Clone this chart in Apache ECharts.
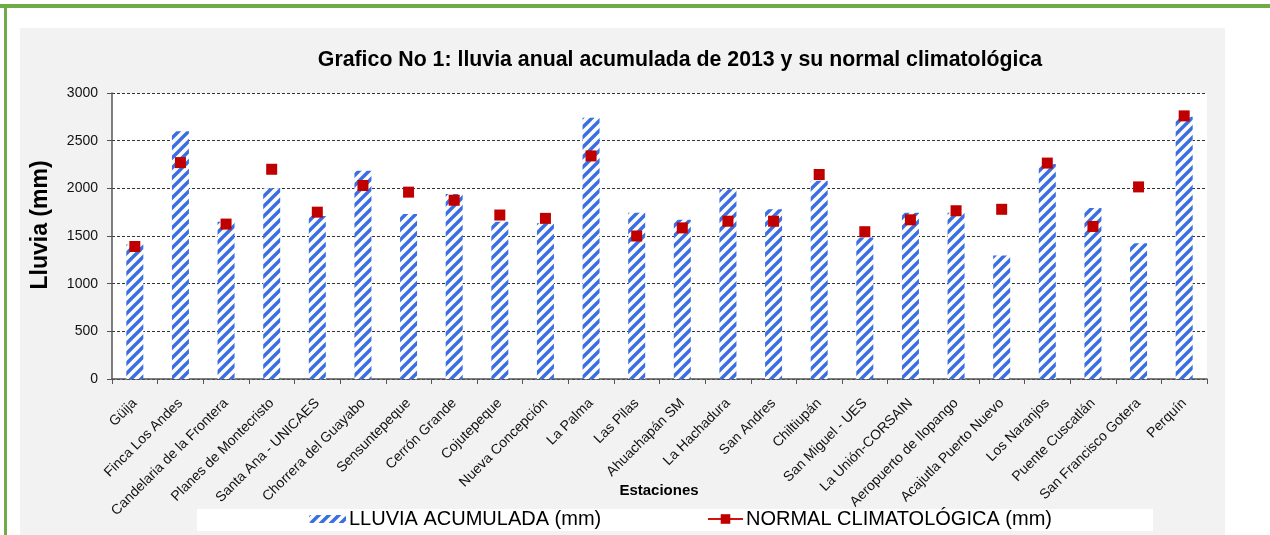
<!DOCTYPE html>
<html>
<head>
<meta charset="utf-8">
<script src="https://cdn.jsdelivr.net/npm/echarts@6/dist/echarts.min.js"></script>
<style>
  html, body { margin: 0; padding: 0; background: #ffffff; }
  #chart { width: 1270px; height: 535px; }
</style>
</head>
<body>
<div id="chart"></div>
<script>
// Estaciones meteorológicas
const estaciones = [
  'Güija', 'Finca Los Andes', 'Candelaria de la Frontera', 'Planes de Montecristo',
  'Santa Ana - UNICAES', 'Chorrera del Guayabo', 'Sensuntepeque', 'Cerrón Grande',
  'Cojutepeque', 'Nueva Concepción', 'La Palma', 'Las Pilas', 'Ahuachapán SM',
  'La Hachadura', 'San Andres', 'Chiltiupán', 'San Miguel - UES', 'La Unión-CORSAIN',
  'Aeropuerto de Ilopango', 'Acajutla Puerto Nuevo', 'Los Naranjos', 'Puente Cuscatlán',
  'San Francisco Gotera', 'Perquín'
];

// Lluvia acumulada 2013 (mm)
const lluviaAcumulada = [
  1410, 2600, 1650, 2000, 1710, 2185, 1730, 1940, 1650, 1635, 2740, 1745,
  1670, 1990, 1780, 2080, 1485, 1745, 1745, 1295, 2255, 1795, 1425, 2750
];

// Normal climatológica (mm)
const normalClimatologica = [
  1390, 2270, 1625, 2200, 1750, 2030, 1960, 1875, 1720, 1685, 2340, 1500,
  1585, 1655, 1655, 2145, 1545, 1670, 1765, 1780, 2265, 1600, 2015, 2760
];

// Eje Y
const yTicks = [0, 500, 1000, 1500, 2000, 2500, 3000];

const FONT = "'Liberation Sans', Arial, sans-serif";

// Trama diagonal para las barras
function stripePattern() {
  const s = 10;
  const c = document.createElement('canvas');
  c.width = s; c.height = s;
  const g = c.getContext('2d');
  g.fillStyle = '#fdfdf3';
  g.fillRect(0, 0, s, s);
  g.strokeStyle = '#3a6ee6';
  g.lineWidth = 3.4;
  g.beginPath();
  g.moveTo(0, s); g.lineTo(s, 0);
  g.moveTo(-2, 2); g.lineTo(2, -2);
  g.moveTo(s - 2, s + 2); g.lineTo(s + 2, s - 2);
  g.stroke();
  return c;
}
const barFill = { image: stripePattern(), repeat: 'repeat' };

const chart = echarts.init(document.getElementById('chart'), null, { renderer: 'canvas' });

chart.setOption({
  animation: false,
  backgroundColor: '#ffffff',
  graphic: [
    // marco verde
    { type: 'rect', shape: { x: 0, y: 4, width: 1270, height: 4 }, style: { fill: '#6fac46' }, z: 0 },
    { type: 'rect', shape: { x: 4, y: 4, width: 3, height: 531 }, style: { fill: '#6fac46' }, z: 0 },
    // panel gris
    { type: 'rect', shape: { x: 20, y: 28, width: 1205, height: 507 }, style: { fill: '#f2f2f2' }, z: -10 },
    // franja blanca de la leyenda
    { type: 'rect', shape: { x: 197, y: 509, width: 956, height: 22 }, style: { fill: '#ffffff' }, z: -5 },
    // título del eje Y
    {
      type: 'text', x: 41, y: 225, rotation: Math.PI / 2,
      style: {
        text: 'Lluvia (mm)', fontFamily: FONT, fontSize: 23, fontWeight: 'bold',
        fill: '#000', textAlign: 'center', textVerticalAlign: 'middle'
      }
    },
    // título del eje X
    {
      type: 'text', x: 659, y: 491,
      style: {
        text: 'Estaciones', fontFamily: FONT, fontSize: 15, fontWeight: 'bold',
        fill: '#000', textAlign: 'center', textVerticalAlign: 'middle'
      }
    }
  ],
  title: {
    text: 'Grafico No 1: lluvia anual acumulada de 2013 y su normal climatológica',
    left: 680,
    textAlign: 'center',
    top: 50,
    padding: 0,
    textStyle: { fontFamily: FONT, fontSize: 21.3, fontWeight: 'bold', color: '#000' }
  },
  legend: [
    {
      data: ['LLUVIA ACUMULADA (mm)'],
      left: 309,
      top: 509,
      padding: 0,
      itemWidth: 37,
      itemHeight: 8,
      textStyle: { fontFamily: FONT, fontSize: 20, color: '#000', padding: [0, 0, 0, -2] }
    },
    {
      data: [{
        name: 'NORMAL CLIMATOLÓGICA (mm)',
        lineStyle: { color: '#d41010', width: 2, opacity: 1 }
      }],
      left: 707,
      top: 509,
      padding: 0,
      itemWidth: 35,
      itemHeight: 12,
      textStyle: { fontFamily: FONT, fontSize: 20, color: '#000', padding: [0, 0, 0, -2] }
    }
  ],
  grid: {
    left: 112, right: 63, top: 93, bottom: 156,
    show: true, backgroundColor: '#ffffff', borderWidth: 0
  },
  xAxis: {
    type: 'category',
    data: estaciones,
    axisLine: { lineStyle: { color: '#555', width: 1.5 } },
    axisTick: { show: true, length: 5, lineStyle: { color: '#555' } },
    axisLabel: {
      interval: 0, rotate: 45, margin: 22,
      fontFamily: FONT, fontSize: 14, color: '#111'
    }
  },
  yAxis: {
    type: 'value',
    min: yTicks[0],
    max: yTicks[yTicks.length - 1],
    interval: yTicks[1] - yTicks[0],
    axisLine: { show: true, lineStyle: { color: '#555', width: 1.5 } },
    axisTick: { show: true, length: 5, lineStyle: { color: '#555' } },
    axisLabel: {
      fontFamily: FONT, fontSize: 14, color: '#111', margin: 14,
      formatter: (v) => String(v)
    },
    splitLine: { show: true, lineStyle: { color: '#333', width: 1, type: [3, 2] } }
  },
  series: [
    {
      name: 'LLUVIA ACUMULADA (mm)',
      type: 'bar',
      data: lluviaAcumulada,
      barWidth: 17,
      itemStyle: { color: barFill },
      z: 2
    },
    {
      name: 'NORMAL CLIMATOLÓGICA (mm)',
      type: 'line',
      data: normalClimatologica,
      symbol: 'rect',
      symbolSize: 11,
      showSymbol: true,
      lineStyle: { opacity: 0, width: 0 },
      itemStyle: { color: '#c00000' },
      z: 3
    }
  ]
});
</script>
</body>
</html>
